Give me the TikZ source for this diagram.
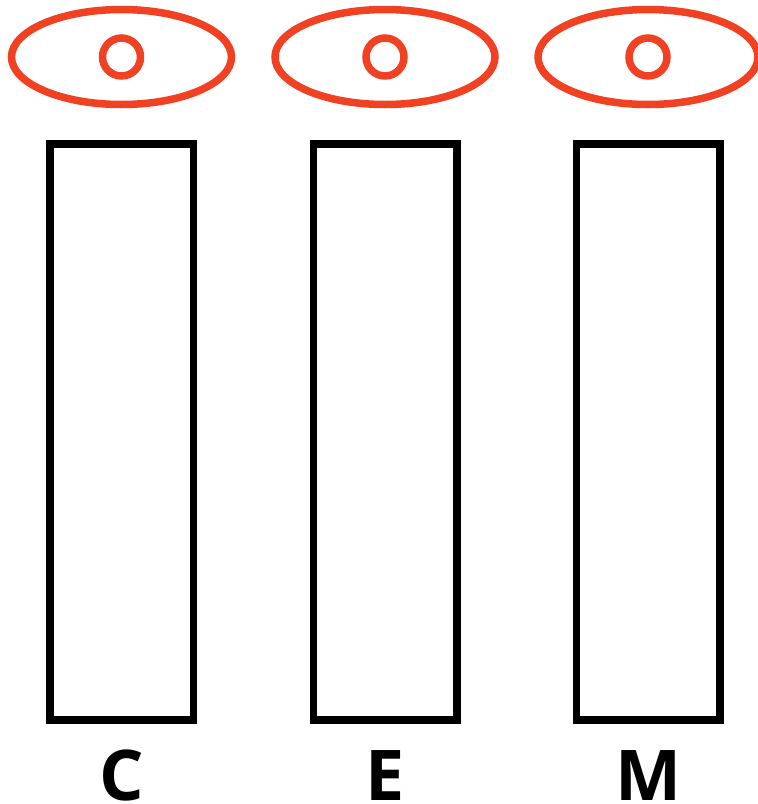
\documentclass[tikz,border=0pt]{standalone}
\usepackage{fontspec}
\setmainfont{Open Sans}
\usepackage{tikz}
\usetikzlibrary{arrows, shapes}
\definecolor{eyered}{RGB}{240,65,35}
\tikzset{
    eye/.style={ellipse, draw=eyered, line width=7.5pt, inner sep=0pt,
        minimum width=220pt, minimum height=95pt},
    pupil/.style={circle, draw=eyered, line width=7.5pt, inner sep=0pt,
        minimum size=38pt},
    bar/.style={rectangle, draw=black, line width=7.5pt, inner sep=0pt,
        minimum width=143.5pt, minimum height=576pt},
    tag/.style={anchor=base, inner sep=0pt,
        font=\fontsize{70}{84}\selectfont\bfseries}
}
\begin{document}
\begin{tikzpicture}[x=1pt, y=-1pt]
\useasboundingbox (0,0) rectangle (758,804);
\begin{scope}
    \node[eye] (e1) at (121.5,57) {};
    \node[eye] (e2) at (385,57) {};
    \node[eye] (e3) at (648,57) {};

    \node[pupil] (p1) at (121.5,57) {};
    \node[pupil] (p2) at (385,57) {};
    \node[pupil] (p3) at (648,57) {};

    \node[bar] (b1) at (121.5,432) {};
    \node[bar] (b2) at (385,432) {};
    \node[bar] (b3) at (648,432) {};

    \node[tag] (c) at (121.5,800) {C};
    \node[tag] (e) at (385,800) {E};
    \node[tag] (m) at (648,800) {M};
\end{scope}
\end{tikzpicture}
\end{document}
